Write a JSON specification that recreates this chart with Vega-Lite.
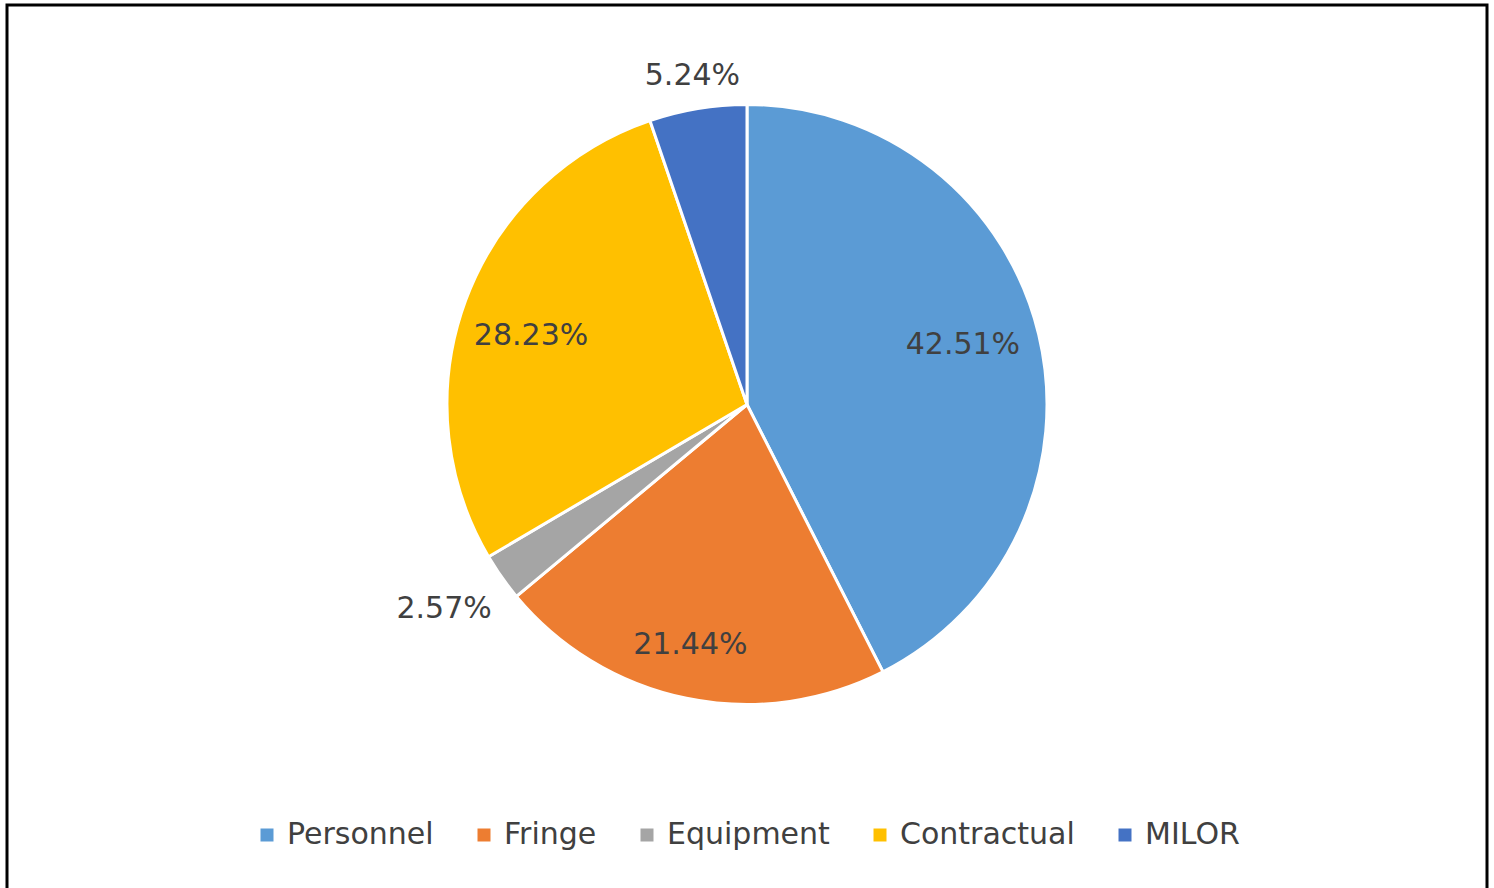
{
  "$schema": "https://vega.github.io/schema/vega-lite/v6.json",
  "width": 1480,
  "height": 887,
  "autosize": {"type": "none"},
  "padding": {"left": 7, "top": 5, "right": 7, "bottom": -4},
  "background": "white",
  "config": {
    "view": {"stroke": "black", "strokeWidth": 3},
    "legend": {
      "orient": "none",
      "legendX": 245,
      "legendY": 815,
      "direction": "horizontal",
      "symbolType": "square",
      "symbolSize": 169,
      "symbolStrokeWidth": 0,
      "labelFont": "DejaVu Sans",
      "labelFontSize": 30,
      "labelColor": "#404040",
      "labelLimit": 400,
      "labelOffset": 5,
      "columnPadding": 35
    }
  },
  "data": {
    "values": [
      {"cat": "Personnel", "idx": 1, "pct": 0.4251},
      {"cat": "Fringe", "idx": 2, "pct": 0.2144},
      {"cat": "Equipment", "idx": 3, "pct": 0.0257},
      {"cat": "Contractual", "idx": 4, "pct": 0.2823},
      {"cat": "MILOR", "idx": 5, "pct": 0.0524}
    ]
  },
  "layer": [
    {
      "mark": {"type": "point", "opacity": 0},
      "encoding": {
        "x": {"field": "idx", "type": "quantitative", "axis": null},
        "y": {"field": "pct", "type": "quantitative", "axis": null}
      }
    },
    {
      "mark": {"type": "arc", "outerRadius": 300, "stroke": "white", "strokeWidth": 3, "y": {"expr": "height/2-44"}},
      "encoding": {
        "theta": {"field": "pct", "type": "quantitative", "stack": true},
        "order": {"field": "idx", "type": "quantitative"},
        "color": {
          "field": "cat",
          "type": "nominal",
          "title": null,
          "sort": ["Personnel", "Fringe", "Equipment", "Contractual", "MILOR"],
          "scale": {
            "domain": ["Personnel", "Fringe", "Equipment", "Contractual", "MILOR"],
            "range": ["#5B9BD5", "#ED7D31", "#A5A5A5", "#FFC000", "#4472C4"]
          }
        }
      }
    },
    {
      "mark": {"type": "text", "radius": 222, "dy": -8, "font": "DejaVu Sans", "fontSize": 30, "fill": "#404040", "y": {"expr": "height/2-44"}},
      "encoding": {
        "theta": {"field": "pct", "type": "quantitative", "stack": true},
        "order": {"field": "idx", "type": "quantitative"},
        "text": {"condition": {"test": "datum.cat == 'Personnel'", "field": "pct", "type": "quantitative", "format": ".2%"}, "value": ""}
      }
    },
    {
      "mark": {"type": "text", "radius": 226, "dx": -4, "dy": 10, "font": "DejaVu Sans", "fontSize": 30, "fill": "#404040", "y": {"expr": "height/2-44"}},
      "encoding": {
        "theta": {"field": "pct", "type": "quantitative", "stack": true},
        "order": {"field": "idx", "type": "quantitative"},
        "text": {"condition": {"test": "datum.cat == 'Contractual'", "field": "pct", "type": "quantitative", "format": ".2%"}, "value": ""}
      }
    },
    {
      "mark": {"type": "text", "radius": 246, "dx": -7, "font": "DejaVu Sans", "fontSize": 30, "fill": "#404040", "y": {"expr": "height/2-44"}},
      "encoding": {
        "theta": {"field": "pct", "type": "quantitative", "stack": true},
        "order": {"field": "idx", "type": "quantitative"},
        "text": {"condition": {"test": "datum.cat == 'Fringe'", "field": "pct", "type": "quantitative", "format": ".2%"}, "value": ""}
      }
    },
    {
      "mark": {"type": "text", "radius": 363, "dx": -6, "dy": -4, "font": "DejaVu Sans", "fontSize": 30, "fill": "#404040", "y": {"expr": "height/2-44"}},
      "encoding": {
        "theta": {"field": "pct", "type": "quantitative", "stack": true},
        "order": {"field": "idx", "type": "quantitative"},
        "text": {"condition": {"test": "datum.cat == 'Equipment'", "field": "pct", "type": "quantitative", "format": ".2%"}, "value": ""}
      }
    },
    {
      "mark": {"type": "text", "radius": 333, "font": "DejaVu Sans", "fontSize": 30, "fill": "#404040", "y": {"expr": "height/2-44"}},
      "encoding": {
        "theta": {"field": "pct", "type": "quantitative", "stack": true},
        "order": {"field": "idx", "type": "quantitative"},
        "text": {"condition": {"test": "datum.cat == 'MILOR'", "field": "pct", "type": "quantitative", "format": ".2%"}, "value": ""}
      }
    }
  ]
}
